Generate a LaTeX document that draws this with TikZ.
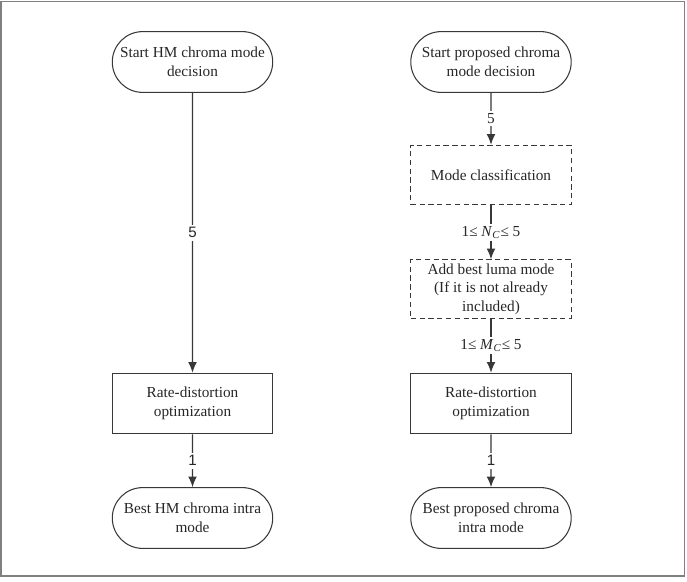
\documentclass[tikz,border=0pt]{standalone}
\usepackage{fontspec}
\setmainfont{Liberation Serif}
\newfontfamily\sansschrift{Liberation Sans}
\usetikzlibrary{arrows.meta}
\usetikzlibrary{shapes.misc}
\definecolor{liniengrau}{rgb}{0.22,0.22,0.22}
\definecolor{rahmengrau}{rgb}{0.5,0.5,0.5}

\begin{document}
\begin{tikzpicture}[x=0.02cm, y=-0.02cm, % 1 Einheit = 1 Pixel, y nach unten
    font=\fontsize{8.7}{10.6}\selectfont,
    kasten/.style={rectangle, draw=liniengrau, line width=0.6pt, minimum width=91.3pt, minimum height=34.6pt, inner sep=0pt, align=center, text=black!85},
    startende/.style={kasten, rounded rectangle, rounded rectangle arc length=180},
    gestrichelt/.style={kasten, dash pattern=on 3pt off 2pt},
    pfeil/.style={draw=liniengrau, line width=0.6pt, -{Latex[length=6pt, width=5pt]}},
    beschriftung/.style={fill=white, inner sep=1.5pt, text=black!85},
    serifenlos/.style={font=\sansschrift\fontsize{8.6}{10.5}\selectfont}]

    % Rahmen
    \useasboundingbox (0,0) rectangle (687,582);
    \draw[rahmengrau, line width=1pt] (1,1.5) rectangle (684.5,576);

    % Linke Spalte (HM)
    \node[startende] (startL) at (192.5,62) {Start HM chroma mode\\decision};
    \node[kasten] (rdL) at (192.5,403.5) {Rate-distortion\\optimization};
    \node[startende] (bestL) at (192.5,518) {Best HM chroma intra\\mode};

    % Rechte Spalte (vorgeschlagen)
    \node[startende] (startR) at (491,62) {Start proposed chroma\\mode decision};
    \node[gestrichelt, minimum height=34pt] (klasseR) at (491,175) {Mode classification};
    \node[gestrichelt, minimum height=33.4pt] (lumaR) at (491,289) {Add best luma mode\\(If it is not already\\included)};
    \node[kasten] (rdR) at (491,403.5) {Rate-distortion\\optimization};
    \node[startende] (bestR) at (491,518) {Best proposed chroma\\intra mode};

    % Pfeile links
    \draw[pfeil] (startL) -- node[beschriftung, serifenlos] {5} (rdL);
    \draw[pfeil] (rdL) -- node[beschriftung, serifenlos] {1} (bestL);

    % Pfeile rechts
    \draw[pfeil] (startR) -- node[beschriftung] {5} (klasseR);
    \draw[pfeil] (klasseR) -- node[beschriftung] {1≤ \textit{N}\textsubscript{\textit{C}}≤ 5} (lumaR);
    \draw[pfeil] (lumaR) -- node[beschriftung] {1≤ \textit{M}\textsubscript{\textit{C}}≤ 5} (rdR);
    \draw[pfeil] (rdR) -- node[beschriftung, serifenlos] {1} (bestR);

\end{tikzpicture}
\end{document}
